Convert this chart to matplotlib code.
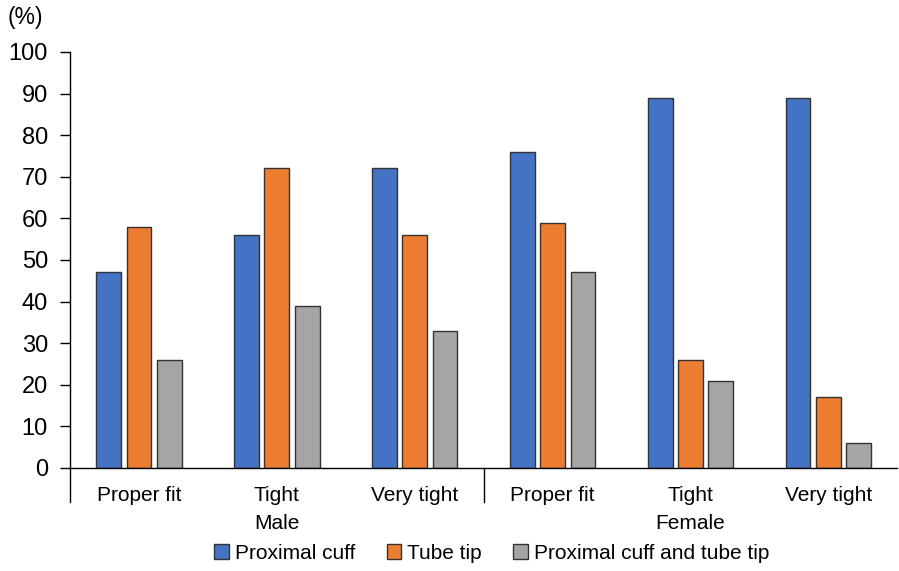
import numpy as np
import matplotlib.pyplot as plt
from matplotlib.transforms import blended_transform_factory

plt.rcParams['font.family'] = ['Liberation Sans', 'DejaVu Sans']

categories = ['Proper fit', 'Tight', 'Very tight', 'Proper fit', 'Tight', 'Very tight']
groups = ['Male', 'Female']
proximal_cuff = [47, 56, 72, 76, 89, 89]
tube_tip = [58, 72, 56, 59, 26, 17]
both = [26, 39, 33, 47, 21, 6]
series_names = ['Proximal cuff', 'Tube tip', 'Proximal cuff and tube tip']
colors = ['#4472C4', '#ED7D31', '#A5A5A5']

fig = plt.figure(figsize=(8.99, 5.71), dpi=100)
ax = fig.add_axes([0.078, 0.1804, 0.92, 0.7286])

x = np.arange(len(categories))
w = 0.18
step = 0.22
for i, (vals, name, c) in enumerate(zip([proximal_cuff, tube_tip, both], series_names, colors)):
    ax.bar(x + (i - 1) * step, vals, w, color=c, edgecolor='#333333', linewidth=1.0, label=name)

ax.set_xlim(-0.5, len(categories) - 0.5)
ax.set_ylim(0, 100)
ax.set_yticks(range(0, 101, 10))
ax.tick_params(axis='y', direction='out', length=7, width=1, labelsize=17, pad=9)
ax.set_xticks(x)
ax.set_xticklabels(categories, fontsize=15)
ax.tick_params(axis='x', length=0, pad=13)

for s in ['top', 'right']:
    ax.spines[s].set_visible(False)
ax.spines['left'].set_linewidth(1)
ax.spines['bottom'].set_linewidth(1)

# group separators below the axis
tr = blended_transform_factory(ax.transData, ax.transAxes)
for xs in [-0.5, 2.5]:
    ax.plot([xs, xs], [0, -0.082], transform=tr, color='black', lw=1, clip_on=False)

for gi, g in enumerate(groups):
    ax.text(1 + 3 * gi, -0.133, g, transform=tr, ha='center', va='center', fontsize=15)

fig.text(0.009, 0.97, '(%)', fontsize=16.5, va='center', ha='left')

fig.legend(loc='center', bbox_to_anchor=(0.547, 0.031), ncol=3, frameon=False,
           fontsize=15, handlelength=0.7, handleheight=0.7, handletextpad=0.3,
           columnspacing=1.5)

fig.savefig('out.png', dpi=100)
